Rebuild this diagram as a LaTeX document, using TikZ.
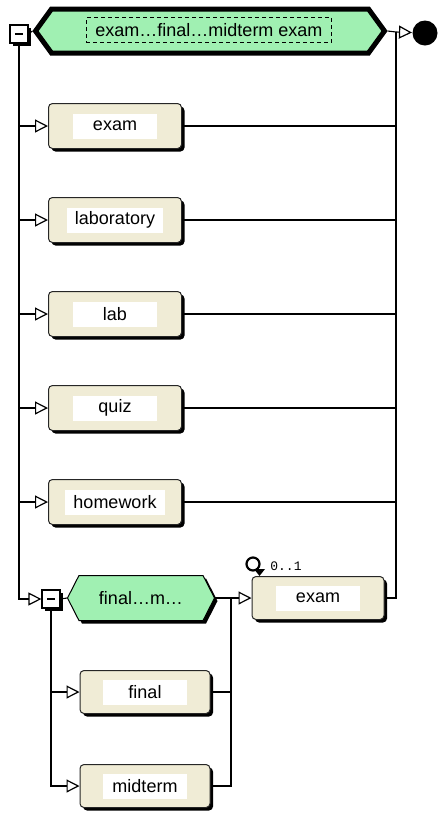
\documentclass[tikz,border=0pt]{standalone}
\usepackage{fontspec}
\setmainfont{Liberation Sans}
\newfontfamily\monofnt{Liberation Mono}
\usetikzlibrary{arrows.meta}
\usetikzlibrary{shapes.symbols,shadows}
\definecolor{hexgreen}{RGB}{160,240,178}
\definecolor{boxbeige}{RGB}{240,236,214}
\begin{document}
\begin{tikzpicture}[x=1pt,y=-1pt,line width=1.1pt,font=\fontsize{18}{21}\selectfont,
shd/.style={drop shadow={shadow xshift=3pt,shadow yshift=-3pt,fill=black,opacity=1}},
box/.style={draw=black!85,fill=boxbeige,rounded corners=4pt,minimum width=133pt,minimum height=45pt,line width=1pt,shd},
tag/.style={fill=white,minimum width=84pt,minimum height=25pt,inner xsep=8pt,inner ysep=0pt},
hex/.style={shape=signal,signal to=west and east,fill=hexgreen,inner sep=0pt},
mbox/.style={draw,fill=white,minimum size=18pt,inner sep=0pt,line width=1.2pt,shd},
arr/.style={-{Triangle[open,length=13pt,width=13pt,line width=1.2pt]}}]
\useasboundingbox (0,0) rectangle (438,815);
%top choice
\node[hex,draw,line width=5pt,minimum width=349pt,minimum height=44pt,signal pointer angle=108] (top) at (210,31) {};
\node[tag,draw,fill=hexgreen,line width=1pt,inner xsep=9pt,dash pattern=on 4pt off 3pt] (toptag) at (209,30) {exam…final…midterm exam};
\node[mbox] (m1) at (19,34) {\rule{8pt}{1.5pt}};
\node[circle,fill=black,minimum size=25pt,inner sep=0pt] (stop) at (425,33) {};
\coordinate (rbus) at (396,32);
\draw (m1.east) -- (top.west);
\draw (top.east) -- (rbus);
\draw[arr] (rbus) -- (stop);
%branches
\foreach \i/\t/\y in {1/exam/126,2/laboratory/220,3/lab/314,4/quiz/408,5/homework/502}{
\node[box] (b\i) at (115,\y) {};
\node[tag] (t\i) at (b\i) {\t};
\draw[arr] (m1.south) |- (b\i.west);
\draw (b\i.east) -| (rbus);}
%inner sequence
\node[mbox] (m2) at (51,599) {\rule{8pt}{1.5pt}};
\node[hex,draw,line width=1pt,minimum width=147pt,minimum height=45pt,signal pointer angle=126,shd] (h2) at (141,598) {final…m…};
\coordinate (ibus) at (231,598);
\node[box,minimum width=132pt,minimum height=43pt] (b6) at (318,598) {};
\node[tag] (t6) at (b6) {exam};
\node[circle,draw,line width=2.2pt,minimum size=13pt,inner sep=0pt] (rep) at (253,564) {};
\fill (254,569) -- (265,569) -- (259.5,576) -- cycle;
\node[font=\monofnt\fontsize{13}{14}\selectfont,inner sep=0pt] (occ) at (286,566) {0..1};
\draw[arr] (m1.south) |- (m2.west);
\draw (m2.east) -- (h2.west);
\draw (h2.east) -- (ibus);
\draw[arr] (ibus) -- (b6.west);
\draw (b6.east) -| (rbus);
\foreach \i/\t/\y in {7/final/692,8/midterm/786}{
\node[box,minimum width=130pt,minimum height=43pt] (b\i) at (145,\y) {};
\node[tag] (t\i) at (b\i) {\t};
\draw[arr] (m2.south) |- (b\i.west);
\draw (b\i.east) -| (ibus);}
\end{tikzpicture}
\end{document}
